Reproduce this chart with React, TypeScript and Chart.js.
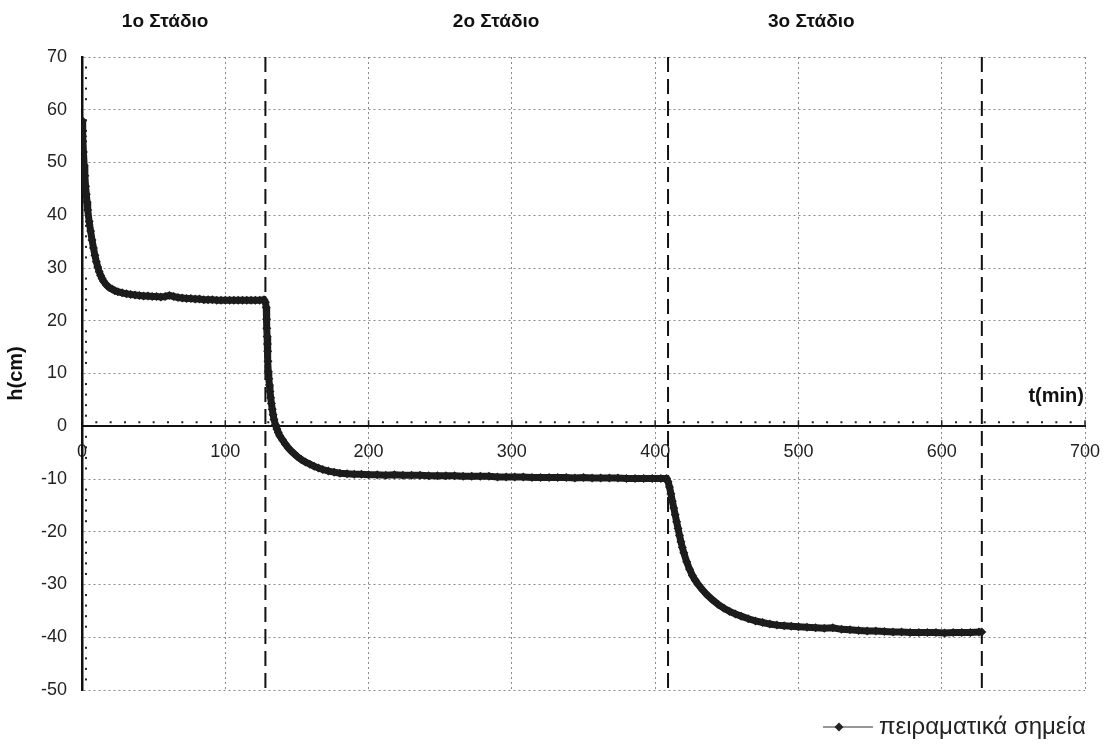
import React, { useEffect, useRef } from "react";
import { Chart, registerables } from "chart.js";

Chart.register(...registerables);

// ---- data ----
const stage1T = [0, 0.5, 1, 1.5, 2, 2.5, 3, 3.5, 4, 5, 6, 7, 8, 9, 10, 11, 12, 13, 14, 15, 17, 19, 21, 23, 25, 28, 31, 34, 37, 40, 43, 46, 49, 52, 55, 58, 61, 64, 67, 70, 73, 76, 79, 82, 85, 88, 91, 94, 97, 100, 103, 106, 109, 112, 115, 118, 121, 124, 127, 128];
const stage1H = [58, 55, 52, 49.5, 47.5, 45.5, 44, 42.5, 41, 38.8, 37, 35.3, 33.8, 32.4, 31.2, 30.2, 29.3, 28.6, 28, 27.5, 26.8, 26.3, 26, 25.7, 25.5, 25.3, 25.1, 25, 24.9, 24.8, 24.7, 24.7, 24.6, 24.6, 24.5, 24.6, 24.8, 24.6, 24.4, 24.3, 24.2, 24.2, 24.1, 24.1, 24.0, 24.0, 24.0, 23.9, 23.9, 23.9, 23.9, 23.9, 23.9, 23.9, 23.9, 23.9, 23.9, 23.9, 24.0, 23.5];

const stage2T = [128.6, 128.8, 129, 129.2, 129.4, 129.6, 129.8, 130, 130.4, 130.8, 131.2, 131.7, 132.2, 132.8, 133.4, 134, 135, 136, 137, 138, 140, 142, 144, 146, 148, 150, 153, 156, 159, 162, 165, 168, 172, 176, 180, 185, 190, 195, 200, 206, 212, 218, 224, 230, 236, 242, 248, 254, 260, 266, 272, 278, 284, 290, 296, 302, 308, 314, 320, 326, 332, 338, 344, 350, 356, 362, 368, 374, 380, 386, 392, 398, 404, 408];
const stage2H = [22.5, 20.3, 18.6, 17, 15.6, 14.2, 12.3, 10.4, 9, 7.8, 6.6, 5.4, 4.3, 3.2, 2.2, 1.3, 0.3, -0.5, -1.2, -1.8, -2.6, -3.4, -4.1, -4.7, -5.2, -5.7, -6.3, -6.8, -7.2, -7.6, -7.9, -8.2, -8.5, -8.7, -8.9, -9.0, -9.1, -9.1, -9.2, -9.2, -9.3, -9.2, -9.3, -9.3, -9.3, -9.4, -9.4, -9.4, -9.4, -9.5, -9.5, -9.5, -9.5, -9.6, -9.6, -9.6, -9.6, -9.7, -9.7, -9.7, -9.7, -9.7, -9.8, -9.7, -9.8, -9.8, -9.8, -9.8, -9.9, -9.9, -9.9, -9.9, -9.9, -9.9];

const stage3T = [409, 410, 411, 412, 413, 414, 415, 416, 417, 418, 419, 420, 422, 424, 426, 428, 430, 433, 436, 440, 444, 448, 452, 456, 460, 465, 470, 475, 480, 485, 490, 495, 500, 506, 512, 518, 524, 530, 536, 542, 548, 554, 560, 566, 572, 578, 584, 590, 596, 602, 608, 614, 620, 626, 628];
const stage3H = [-10.5, -11.5, -12.8, -14.2, -15.5, -16.8, -18.1, -19.4, -20.7, -21.9, -23.0, -24.0, -25.7, -27.1, -28.3, -29.2, -30.0, -31.0, -31.9, -32.9, -33.8, -34.5, -35.1, -35.6, -36.0, -36.5, -36.9, -37.2, -37.5, -37.7, -37.8, -37.9, -38.0, -38.1, -38.2, -38.3, -38.2, -38.5, -38.6, -38.7, -38.8, -38.8, -38.9, -39.0, -39.0, -39.1, -39.1, -39.1, -39.1, -39.2, -39.1, -39.1, -39.1, -39.0, -39.0];

const stageBoundaries = [128, 409, 628];
const stageLabels = ["1ο Στάδιο", "2ο Στάδιο", "3ο Στάδιο"];
const stageLabelT = [58, 289, 509];
const seriesLabel = "πειραματικά σημεία";
const xTitle = "t(min)";
const yTitle = "h(cm)";

const FONT = '"Liberation Sans", Arial, sans-serif';

const decorPlugin = {
  id: "decor",
  beforeDatasetsDraw(chart: any) {
    const { ctx, chartArea, scales } = chart;
    const x = scales.x;
    const y = scales.y;
    const y0 = y.getPixelForValue(0);
    ctx.save();
    ctx.fillStyle = "#222";
    for (let v = 10; v <= 700; v += 10) {
      const px = x.getPixelForValue(v);
      if (v % 100 === 0) ctx.fillRect(px - 0.75, y0 - 6, 1.5, 6);
      else ctx.fillRect(px - 1, y0 - 5, 2, 2);
    }
    const lx = chartArea.left;
    for (let v = -48; v < 70; v += 2) {
      if (v % 10 === 0) continue;
      const py = y.getPixelForValue(v);
      ctx.fillRect(lx + 3, py - 1, 2, 2);
    }
    ctx.restore();
  },
  afterDraw(chart: any) {
    const { ctx, chartArea, scales } = chart;
    const x = scales.x;
    const y = scales.y;
    ctx.save();
    ctx.fillStyle = "#111";
    ctx.textBaseline = "middle";
    ctx.textAlign = "center";
    ctx.font = `bold 19px ${FONT}`;
    stageLabels.forEach((s, i) => {
      ctx.fillText(s, x.getPixelForValue(stageLabelT[i]), 22);
    });
    ctx.font = `bold 20px ${FONT}`;
    ctx.textAlign = "right";
    ctx.fillText(xTitle, chartArea.right - 1, y.getPixelForValue(0) - 30);

    // legend
    const ly = 727;
    ctx.strokeStyle = "#333";
    ctx.lineWidth = 1;
    ctx.beginPath();
    ctx.moveTo(823, ly);
    ctx.lineTo(873, ly);
    ctx.stroke();
    ctx.fillStyle = "#222";
    ctx.beginPath();
    ctx.moveTo(839, ly - 4.5);
    ctx.lineTo(843.5, ly);
    ctx.lineTo(839, ly + 4.5);
    ctx.lineTo(834.5, ly);
    ctx.closePath();
    ctx.fill();
    ctx.font = `24px ${FONT}`;
    ctx.textAlign = "left";
    ctx.fillText(seriesLabel, 879, ly);
    ctx.restore();
  },
};

export default function App() {
  const ref = useRef<HTMLCanvasElement | null>(null);

  useEffect(() => {
    if (!ref.current) return;
    const points = [
      ...stage1T.map((t, i) => ({ x: t, y: stage1H[i] })),
      ...stage2T.map((t, i) => ({ x: t, y: stage2H[i] })),
      ...stage3T.map((t, i) => ({ x: t, y: stage3H[i] })),
    ];
    const boundarySets = stageBoundaries.map((t) => ({
      label: "boundary",
      data: [
        { x: t, y: 70 },
        { x: t, y: -50 },
      ],
      showLine: true,
      borderColor: "#111",
      borderWidth: 2,
      borderDash: [15, 7],
      pointRadius: 0,
      order: 2,
    }));
    const chart = new Chart(ref.current, {
      type: "scatter",
      data: {
        datasets: [
          {
            label: seriesLabel,
            data: points,
            showLine: true,
            borderColor: "#1c1c1c",
            backgroundColor: "#1c1c1c",
            borderWidth: 7,
            pointStyle: "rectRot",
            pointRadius: 4.5,
            pointBorderWidth: 0,
            order: 1,
          },
          ...boundarySets,
        ] as any,
      },
      options: {
        animation: false,
        responsive: true,
        maintainAspectRatio: false,
        layout: { padding: { top: 57, right: 18, bottom: 65, left: 0 } },
        plugins: {
          legend: { display: false },
          tooltip: { enabled: false },
        },
        scales: {
          x: {
            type: "linear",
            position: { y: 0 } as any,
            min: 0,
            max: 700,
            ticks: {
              stepSize: 100,
              padding: 15,
              color: "#222",
              font: { family: FONT, size: 18 },
            },
            grid: { color: "#8a8a8a", lineWidth: 1, drawTicks: false },
            border: { color: "#111", width: 2, dash: [2, 3] },
            afterFit: (scale: any) => {
              scale.paddingLeft = 0;
              scale.paddingRight = 0;
            },
          },
          y: {
            type: "linear",
            min: -50,
            max: 70,
            ticks: {
              stepSize: 10,
              padding: 15,
              color: "#222",
              font: { family: FONT, size: 18 },
            },
            grid: { color: "#8a8a8a", lineWidth: 1, drawTicks: false },
            border: { color: "#111", width: 2.5, dash: [2, 3] },
            title: {
              display: true,
              text: yTitle,
              color: "#111",
              font: { family: FONT, size: 20, weight: "bold" },
              padding: { top: 4, bottom: 0 },
            },
            afterFit: (scale: any) => {
              scale.width = 82;
            },
          },
        },
      },
      plugins: [decorPlugin],
    });
    return () => chart.destroy();
  }, []);

  return (
    <div style={{ position: "absolute", left: 0, top: 0, width: 1103, height: 755, background: "#fff" }}>
      <canvas ref={ref} />
    </div>
  );
}
